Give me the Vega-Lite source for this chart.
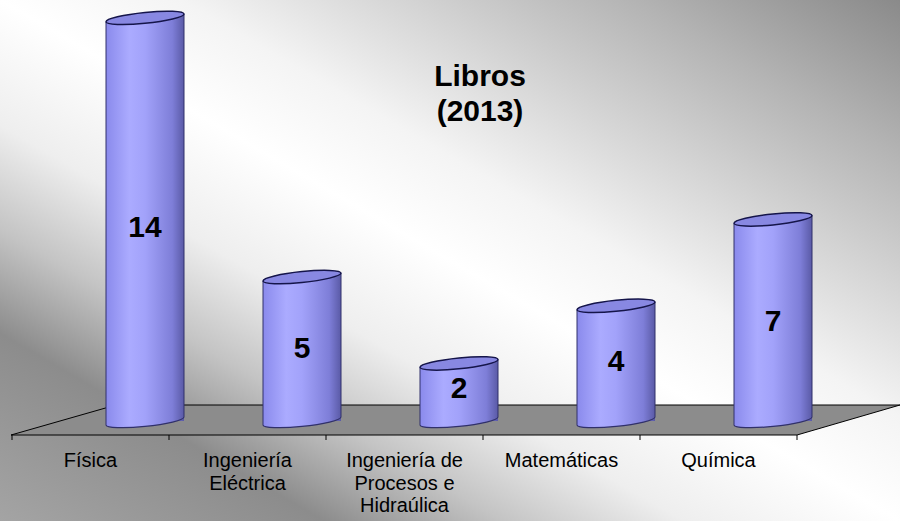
{
  "$schema": "https://vega.github.io/schema/vega-lite/v6.json",
  "width": 900,
  "height": 521,
  "autosize": "none",
  "padding": 0,
  "background": "#ffffff",
  "config": {"view": {"stroke": null}, "font": "Liberation Sans"},
  "title": {"text": ["Libros", "(2013)"], "orient": "top", "anchor": "middle", "frame": "group", "offset": 0, "dy": 127, "dx": 30, "baseline": "top", "fontSize": 30, "fontWeight": "bold", "font": "Liberation Sans", "color": "#000000", "lineHeight": 35},
  "data": {"values": [
    {"cat": "Física", "value": 14},
    {"cat": "Ingeniería\nEléctrica", "value": 5},
    {"cat": "Ingeniería de\nProcesos e\nHidraúlica", "value": 2},
    {"cat": "Matemáticas", "value": 4},
    {"cat": "Química", "value": 7}
  ]},
  "resolve": {"scale": {"y": "independent"}},
  "layer": [
    {
      "mark": {"type": "rect", "fill": {"gradient": "linear", "x1": 1, "y1": 0, "x2": 0, "y2": 1, "stops": [
        {"offset": 0, "color": "#8a8a8a"},
        {"offset": 0.15, "color": "#b4b4b4"},
        {"offset": 0.4, "color": "#f4f4f4"},
        {"offset": 0.5, "color": "#ffffff"},
        {"offset": 0.62, "color": "#eeeeee"},
        {"offset": 0.72, "color": "#c4c4c4"},
        {"offset": 0.82, "color": "#8c8c8c"},
        {"offset": 1, "color": "#a4a4a4"}
      ]}},
      "encoding": {}
    },
    {
      "data": {"values": [{"floor": 1}]},
      "mark": {"type": "point", "shape": "M-393.5,14L392.5,14L495.5,-16L-288.5,-16Z", "size": 4, "filled": true, "fill": "#8c8c8c", "stroke": "#000000", "strokeWidth": 1, "opacity": 1},
      "encoding": {
        "x": {"datum": "Ingeniería de\nProcesos e\nHidraúlica", "type": "nominal", "scale": {"type": "band", "domain": ["Física", "Ingeniería\nEléctrica", "Ingeniería de\nProcesos e\nHidraúlica", "Matemáticas", "Química"], "range": [12, 797], "paddingInner": 0, "paddingOuter": 0}, "axis": null},
        "y": {"datum": 0, "type": "quantitative", "scale": {"domain": [0, 14.62], "range": [421, 0], "nice": false, "zero": false}, "axis": null}
      }
    },
    {
      "mark": {"type": "point", "shape": "M1,-0.1C1,-0.0227,0.5523,0.0848,0,0.14C-0.5523,0.1952,-1,0.1773,-1,0.1L-1,-0.3L1,-0.3Z", "size": 6084, "filled": true, "opacity": 1, "strokeWidth": 0, "xOffset": 54.5,
        "fill": {"gradient": "linear", "x1": 0, "y1": 0, "x2": 1, "y2": 0, "stops": [{"offset": 0, "color": "#8a8aec"}, {"offset": 0.3, "color": "#ababff"}, {"offset": 0.5, "color": "#a2a2fa"}, {"offset": 0.85, "color": "#7e7ed8"}, {"offset": 1, "color": "#5a5aa6"}]}},
      "encoding": {
        "x": {"field": "cat", "type": "nominal", "scale": {"type": "band", "domain": ["Física", "Ingeniería\nEléctrica", "Ingeniería de\nProcesos e\nHidraúlica", "Matemáticas", "Química"], "range": [12, 797], "paddingInner": 0, "paddingOuter": 0}, "axis": null},
        "y": {"datum": 0, "type": "quantitative", "scale": {"domain": [0, 14.62], "range": [421, 0], "nice": false, "zero": false}, "axis": null}
      }
    },
    {
      "mark": {"type": "bar", "width": 78, "xOffset": 54.5, "yOffset": 5,
        "fill": {"gradient": "linear", "x1": 0, "y1": 0, "x2": 1, "y2": 0, "stops": [{"offset": 0, "color": "#8a8aec"}, {"offset": 0.3, "color": "#ababff"}, {"offset": 0.5, "color": "#a2a2fa"}, {"offset": 0.85, "color": "#7e7ed8"}, {"offset": 1, "color": "#5a5aa6"}]}},
      "encoding": {
        "x": {"field": "cat", "type": "nominal", "scale": {"type": "band", "domain": ["Física", "Ingeniería\nEléctrica", "Ingeniería de\nProcesos e\nHidraúlica", "Matemáticas", "Química"], "range": [12, 797], "paddingInner": 0, "paddingOuter": 0}, "axis": null},
        "y": {"field": "value", "type": "quantitative", "scale": {"domain": [0, 14.62], "range": [421, 0], "nice": false, "zero": false}, "axis": null},
        "y2": {"datum": 0}
      }
    },
    {
      "mark": {"type": "point", "shape": "M1,-0.1C1,-0.1773,0.5523,-0.1952,0,-0.14C-0.5523,-0.0848,-1,0.0227,-1,0.1L-1,0.4L1,0.4Z", "size": 6084, "filled": true, "opacity": 1, "strokeWidth": 0, "xOffset": 54.5,
        "fill": {"gradient": "linear", "x1": 0, "y1": 0, "x2": 1, "y2": 0, "stops": [{"offset": 0, "color": "#8a8aec"}, {"offset": 0.3, "color": "#ababff"}, {"offset": 0.5, "color": "#a2a2fa"}, {"offset": 0.85, "color": "#7e7ed8"}, {"offset": 1, "color": "#5a5aa6"}]}},
      "encoding": {
        "x": {"field": "cat", "type": "nominal", "scale": {"type": "band", "domain": ["Física", "Ingeniería\nEléctrica", "Ingeniería de\nProcesos e\nHidraúlica", "Matemáticas", "Química"], "range": [12, 797], "paddingInner": 0, "paddingOuter": 0}, "axis": null},
        "y": {"field": "value", "type": "quantitative", "scale": {"domain": [0, 14.62], "range": [421, 0], "nice": false, "zero": false}, "axis": null}
      }
    },
    {
      "mark": {"type": "rule", "stroke": "#30306a", "strokeWidth": 1, "xOffset": 15.5, "yOffset": 4, "y2Offset": 4},
      "encoding": {
        "x": {"field": "cat", "type": "nominal", "scale": {"type": "band", "domain": ["Física", "Ingeniería\nEléctrica", "Ingeniería de\nProcesos e\nHidraúlica", "Matemáticas", "Química"], "range": [12, 797], "paddingInner": 0, "paddingOuter": 0}, "axis": null},
        "y": {"field": "value", "type": "quantitative", "scale": {"domain": [0, 14.62], "range": [421, 0], "nice": false, "zero": false}, "axis": null},
        "y2": {"datum": 0}
      }
    },
    {
      "mark": {"type": "rule", "stroke": "#30306a", "strokeWidth": 1, "xOffset": 93.5, "yOffset": -4, "y2Offset": -4},
      "encoding": {
        "x": {"field": "cat", "type": "nominal", "scale": {"type": "band", "domain": ["Física", "Ingeniería\nEléctrica", "Ingeniería de\nProcesos e\nHidraúlica", "Matemáticas", "Química"], "range": [12, 797], "paddingInner": 0, "paddingOuter": 0}, "axis": null},
        "y": {"field": "value", "type": "quantitative", "scale": {"domain": [0, 14.62], "range": [421, 0], "nice": false, "zero": false}, "axis": null},
        "y2": {"datum": 0}
      }
    },
    {
      "mark": {"type": "point", "shape": "M1,-0.1C1,-0.0227,0.5523,0.0848,0,0.14C-0.5523,0.1952,-1,0.1773,-1,0.1", "size": 6084, "filled": false, "fill": null, "opacity": 1, "stroke": "#30306a", "strokeWidth": 1.2, "xOffset": 54.5},
      "encoding": {
        "x": {"field": "cat", "type": "nominal", "scale": {"type": "band", "domain": ["Física", "Ingeniería\nEléctrica", "Ingeniería de\nProcesos e\nHidraúlica", "Matemáticas", "Química"], "range": [12, 797], "paddingInner": 0, "paddingOuter": 0}, "axis": null},
        "y": {"datum": 0, "type": "quantitative", "scale": {"domain": [0, 14.62], "range": [421, 0], "nice": false, "zero": false}, "axis": null}
      }
    },
    {
      "mark": {"type": "point", "shape": "M1,-0.1C1,-0.0227,0.5523,0.0848,0,0.14C-0.5523,0.1952,-1,0.1773,-1,0.1C-1,0.0227,-0.5523,-0.0848,0,-0.14C0.5523,-0.1952,1,-0.1773,1,-0.1Z", "size": 6084, "filled": true, "fill": "#8888e2", "opacity": 1, "stroke": "#15154a", "strokeWidth": 1.5, "xOffset": 54.5},
      "encoding": {
        "x": {"field": "cat", "type": "nominal", "scale": {"type": "band", "domain": ["Física", "Ingeniería\nEléctrica", "Ingeniería de\nProcesos e\nHidraúlica", "Matemáticas", "Química"], "range": [12, 797], "paddingInner": 0, "paddingOuter": 0}, "axis": null},
        "y": {"field": "value", "type": "quantitative", "scale": {"domain": [0, 14.62], "range": [421, 0], "nice": false, "zero": false}, "axis": null}
      }
    },
    {
      "mark": {"type": "text", "font": "Liberation Sans", "fontSize": 30, "fontWeight": "bold", "color": "#000000", "baseline": "middle", "align": "center", "xOffset": 54.5, "dy": -5},
      "encoding": {
        "x": {"field": "cat", "type": "nominal", "scale": {"type": "band", "domain": ["Física", "Ingeniería\nEléctrica", "Ingeniería de\nProcesos e\nHidraúlica", "Matemáticas", "Química"], "range": [12, 797], "paddingInner": 0, "paddingOuter": 0}, "axis": null},
        "y": {"field": "value", "type": "quantitative", "scale": {"domain": [0, 31.35], "range": [421, 0], "nice": false, "zero": false}, "axis": null},
        "text": {"field": "value", "type": "quantitative"}
      }
    },
    {
      "mark": {"type": "text", "font": "Liberation Sans", "fontSize": 20, "color": "#000000", "baseline": "top", "align": "center", "lineBreak": "\n", "lineHeight": 22.5, "yOffset": 30},
      "encoding": {
        "x": {"field": "cat", "type": "nominal", "scale": {"type": "band", "domain": ["Física", "Ingeniería\nEléctrica", "Ingeniería de\nProcesos e\nHidraúlica", "Matemáticas", "Química"], "range": [12, 797], "paddingInner": 0, "paddingOuter": 0}, "axis": null},
        "y": {"datum": 0, "type": "quantitative", "scale": {"domain": [0, 14.62], "range": [421, 0], "nice": false, "zero": false}, "axis": null},
        "text": {"field": "cat", "type": "nominal"}
      }
    },
    {
      "mark": {"type": "rule", "stroke": "#000000", "strokeWidth": 1, "yOffset": 14, "y2Offset": 19},
      "encoding": {
        "x": {"field": "cat", "type": "nominal", "bandPosition": 0, "scale": {"type": "band", "domain": ["Física", "Ingeniería\nEléctrica", "Ingeniería de\nProcesos e\nHidraúlica", "Matemáticas", "Química"], "range": [12, 797], "paddingInner": 0, "paddingOuter": 0}, "axis": null},
        "y": {"datum": 0, "type": "quantitative", "scale": {"domain": [0, 14.62], "range": [421, 0], "nice": false, "zero": false}, "axis": null},
        "y2": {"datum": 0}
      }
    },
    {
      "transform": [{"filter": "datum.cat === 'Química'"}],
      "mark": {"type": "rule", "stroke": "#000000", "strokeWidth": 1, "yOffset": 14, "y2Offset": 19},
      "encoding": {
        "x": {"field": "cat", "type": "nominal", "bandPosition": 1, "scale": {"type": "band", "domain": ["Física", "Ingeniería\nEléctrica", "Ingeniería de\nProcesos e\nHidraúlica", "Matemáticas", "Química"], "range": [12, 797], "paddingInner": 0, "paddingOuter": 0}, "axis": null},
        "y": {"datum": 0, "type": "quantitative", "scale": {"domain": [0, 14.62], "range": [421, 0], "nice": false, "zero": false}, "axis": null},
        "y2": {"datum": 0}
      }
    }
  ]
}
